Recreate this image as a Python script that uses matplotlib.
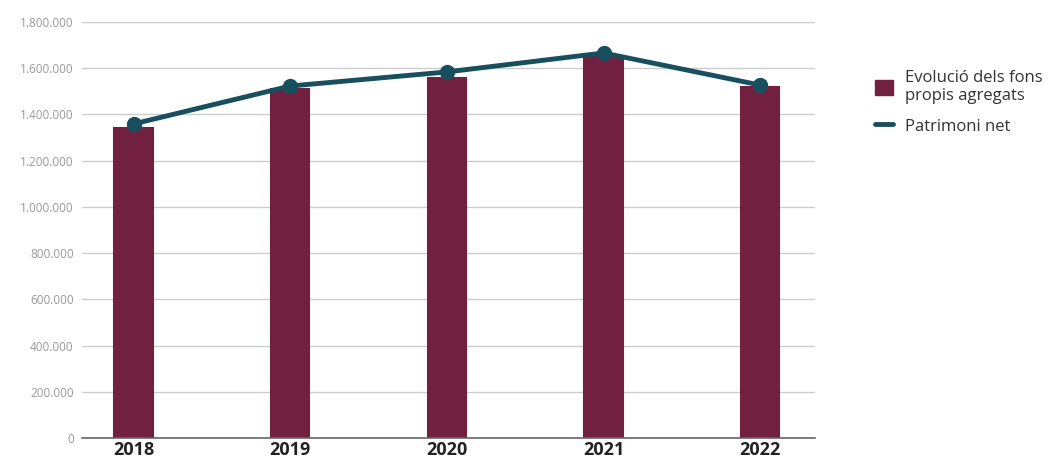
import matplotlib
matplotlib.use("Agg")
import matplotlib.pyplot as plt
from matplotlib.lines import Line2D
from matplotlib.patches import Patch

years = ["2018", "2019", "2020", "2021", "2022"]
fons_propis = [1341000, 1510000, 1558000, 1649000, 1519000]
patrimoni_net = [1359000, 1523000, 1584000, 1666000, 1527000]
yticks = [0, 200000, 400000, 600000, 800000, 1000000, 1200000, 1400000, 1600000, 1800000]
ytick_labels = ["0", "200.000", "400.000", "600.000", "800.000", "1.000.000",
                "1.200.000", "1.400.000", "1.600.000", "1.800.000"]

bar_color = "#722040"
line_color = "#174F5E"

plt.rcParams['font.family'] = ['Open Sans', 'DejaVu Sans']

fig = plt.figure(figsize=(10.54, 4.61), dpi=100)
ax = fig.add_axes([82/1054, 1 - 438/461, (815-82)/1054, (438-22)/461])

x = list(range(len(years)))
ax.bar(x, fons_propis, width=0.245, color=bar_color, edgecolor=bar_color,
       linewidth=1.5, zorder=2)
ax.plot(x, patrimoni_net, color=line_color, linewidth=3.5, marker="o",
        markersize=10, zorder=3, solid_capstyle="round")

ax.set_xlim(-0.33, 4.35)
ax.set_ylim(0, 1800000)
ax.set_yticks(yticks)
ax.set_yticklabels(ytick_labels, fontsize=8.5, color="#999999")
ax.set_xticks(x)
ax.set_xticklabels(years, fontsize=13, fontweight="bold", color="#222222")
ax.tick_params(axis="y", length=0, pad=6)
ax.tick_params(axis="x", length=0, pad=2)
ax.grid(axis="y", color="#cccccc", linewidth=1, zorder=0)
ax.set_axisbelow(True)
for s in ["top", "right", "left"]:
    ax.spines[s].set_visible(False)
ax.spines["bottom"].set_color("#666666")
ax.spines["bottom"].set_linewidth(1.2)

handles = [Patch(facecolor=bar_color, edgecolor=bar_color),
           Line2D([0], [0], color=line_color, linewidth=3.5, solid_capstyle="round")]
labels = ["Evolució dels fons\npropis agregats", "Patrimoni net"]
fig.legend(handles, labels, loc="upper left", bbox_to_anchor=(868/1054, 1 - 63/461),
           frameon=False, fontsize=12, handlelength=1.1, handleheight=1.0,
           handletextpad=0.7, labelspacing=0.8, labelcolor="#333333",
           borderaxespad=0)

fig.savefig("out.png", dpi=100)
